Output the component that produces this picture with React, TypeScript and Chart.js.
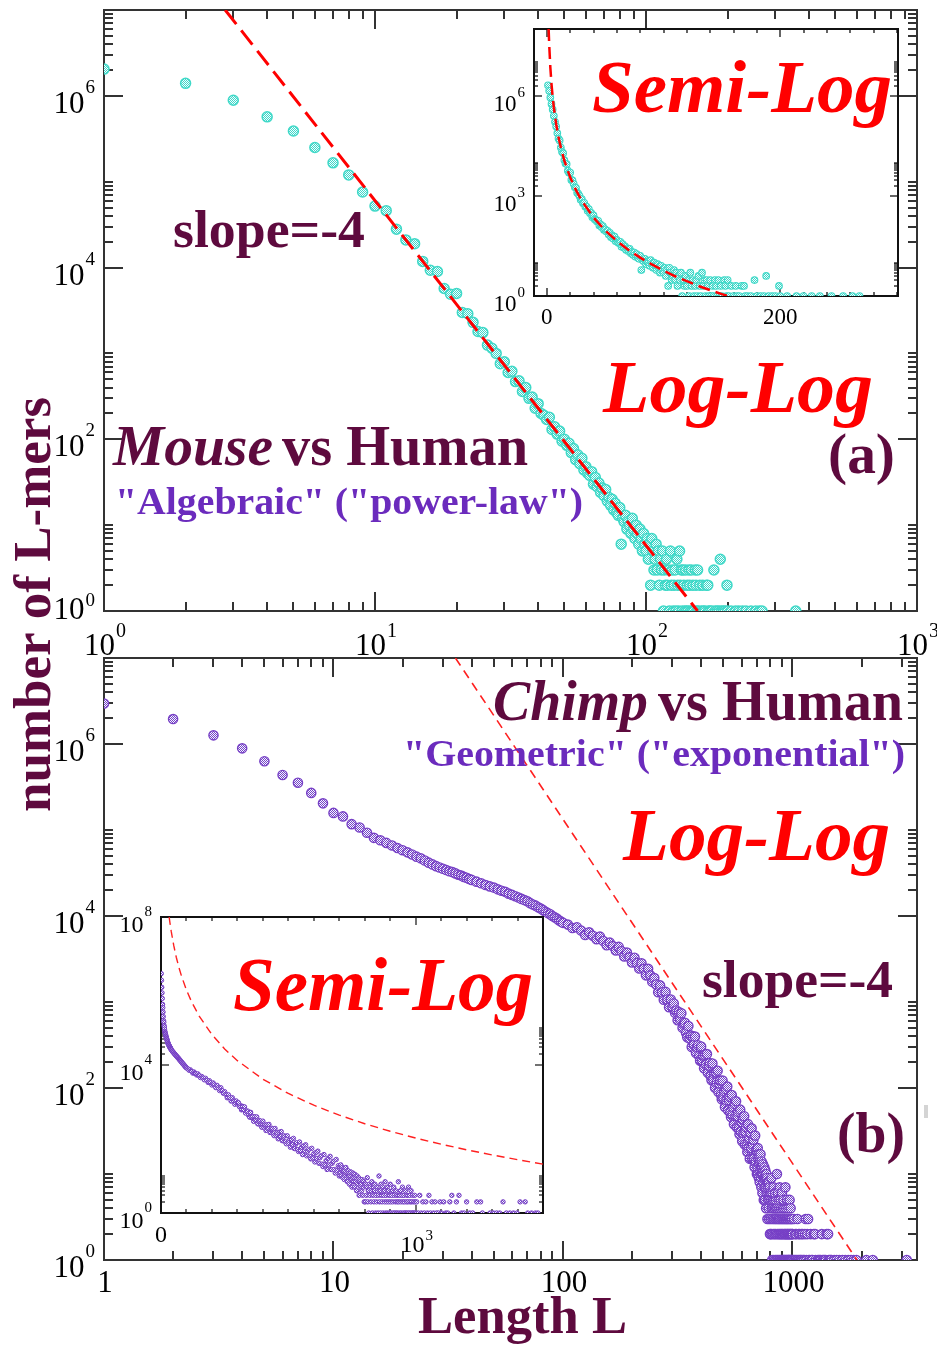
import React, { useEffect, useRef } from 'react';
import { Chart, registerables } from 'chart.js';
Chart.register(...registerables);

const W = 937;
const H = 1345;
const SERIF = '"Liberation Serif", "Times New Roman", serif';
const MAROON = '#5e0a3e';
const PURPLE_TXT = '#6b2bbd';
const RED = '#ff0000';
const CYAN = '#3fd9c8';
const VIOLET = '#7740c6';

// ---------------- data ----------------
// Mouse vs Human: [length L, number of L-mers]
const mousePoints: [number, number][] = [
  [1, 2050000], [2, 1400000], [3, 890000], [4, 570000], [5, 390000], [6, 250000], [7, 166000], [8, 120000], [9, 76000], [10, 52000],
  [11, 46000], [12, 28000], [13, 21000], [14, 19000], [15, 11800], [16, 9300], [17, 9000], [18, 5700], [19, 4900], [20, 5000],
  [21, 3000], [22, 2900], [23, 2300], [24, 1800], [25, 1750], [26, 1250], [27, 1150], [28, 1000], [29, 760], [30, 800],
  [31, 600], [32, 620], [33, 470], [34, 480], [35, 360], [36, 400], [37, 300], [38, 310], [39, 230], [40, 260],
  [41, 200], [42, 190], [43, 170], [44, 180], [45, 130], [46, 140], [47, 115], [48, 125], [49, 95], [50, 100],
  [51, 85], [52, 90], [53, 70], [54, 78], [55, 58], [56, 66], [57, 52], [58, 60], [59, 44], [60, 48],
  [61, 40], [62, 38], [63, 42], [64, 30], [65, 36], [66, 28], [67, 31], [68, 24], [69, 27], [70, 22],
  [71, 26], [72, 19], [73, 21], [74, 17], [75, 20], [76, 15], [77, 18], [78, 14], [79, 13], [80, 16],
  [81, 6], [82, 12], [83, 11], [84, 13], [85, 9], [86, 11], [87, 10], [88, 8], [89, 12], [90, 9],
  [91, 7], [92, 10], [93, 8], [94, 6], [95, 9], [96, 7], [97, 5], [98, 8], [99, 6], [100, 5],
  [101, 7], [102, 4], [103, 6], [104, 2], [105, 7], [106, 5], [107, 3], [108, 4], [109, 6], [110, 3],
  [111, 5], [112, 2], [113, 4], [114, 3], [115, 5], [116, 1], [117, 3], [118, 2], [119, 4], [120, 2],
  [121, 3], [122, 1], [123, 5], [124, 2], [125, 3], [126, 1], [127, 2], [128, 3], [129, 1], [130, 4],
  [131, 2], [132, 1], [133, 5], [134, 2], [135, 3], [136, 1], [137, 3], [138, 2], [139, 1], [140, 3],
  [141, 1], [142, 2], [143, 1], [144, 3], [145, 2], [146, 1], [147, 3], [148, 1], [149, 2], [150, 1],
  [152, 3], [153, 2], [154, 1], [155, 3], [156, 1], [158, 2], [160, 1], [162, 2], [163, 1], [165, 1],
  [167, 2], [169, 2], [170, 1], [172, 1], [175, 1], [178, 3], [180, 1], [183, 1], [186, 1], [188, 4],
  [190, 1], [193, 1], [196, 1], [199, 2], [200, 1], [206, 1], [214, 1], [220, 1], [227, 1], [234, 1],
  [244, 1], [254, 1], [262, 1], [268, 1], [357, 1],
];

// Chimp vs Human: [length L, number of L-mers]
const chimpPoints: [number, number][] = [
  [1, 2950000], [2, 1950000], [3, 1260000], [4, 890000], [5, 630000], [6, 436000], [7, 355000], [8, 270000], [9, 204000], [10, 158000],
  [11, 144000], [12, 117000], [13, 107000], [14, 93000], [15, 81000], [16, 75900], [17, 70800], [18, 66100], [19, 61700], [20, 58200],
  [21, 55000], [22, 51900], [23, 49000], [24, 46800], [25, 44200], [26, 41700], [27, 39800], [28, 38000], [29, 36700], [30, 35500],
  [31, 34300], [32, 33100], [33, 32400], [34, 31300], [35, 30200], [36, 29500], [37, 28500], [38, 27900], [39, 26900], [40, 26300],
  [42, 25100], [44, 24000], [46, 22900], [48, 22100], [50, 21400], [52, 20400], [54, 19700], [56, 19100], [58, 18200], [60, 17600],
  [62, 17000], [64, 16400], [66, 15800], [68, 15300], [70, 14800], [72, 14100], [74, 13600], [76, 13200], [78, 12600], [80, 12200],
  [82, 11700], [84, 11200], [86, 10800], [88, 10500], [90, 10000], [92, 9660], [94, 9330], [96, 8910], [98, 8610], [100, 8320],
  [105, 7940], [110, 7240], [115, 7410], [120, 6760], [125, 6030], [130, 6460], [135, 5890], [140, 5370], [145, 5750], [150, 5130],
  [155, 4570], [160, 4900], [165, 4470], [170, 3980], [175, 4370], [180, 3890], [185, 3390], [190, 3760], [195, 3310], [200, 2880],
  [205, 3270], [210, 2850], [215, 2450], [220, 2820], [225, 2430], [230, 2040], [235, 2430], [240, 2040], [245, 1720], [250, 1900],
  [255, 1600], [260, 1300], [265, 1560], [270, 1300], [275, 1060], [280, 1310], [285, 1070], [290, 870], [295, 1070], [300, 880],
  [304, 960], [308, 748], [312, 798], [316, 613], [320, 765], [324, 626], [328, 738], [332, 502], [336, 561], [340, 572],
  [344, 437], [348, 389], [352, 526], [356, 376], [360, 409], [364, 300], [368, 398], [372, 319], [376, 396], [380, 256],
  [384, 299], [388, 314], [392, 234], [396, 207], [400, 304], [404, 209], [408, 238], [412, 170], [416, 243], [420, 190],
  [424, 248], [428, 150], [432, 182], [436, 195], [440, 139], [444, 123], [448, 193], [452, 126], [456, 147], [460, 101],
  [464, 152], [468, 116], [472, 159], [476, 90], [480, 113], [484, 122], [488, 84], [492, 74], [496, 122], [500, 76],
  [504, 91], [508, 60], [512, 97], [516, 72], [520, 104], [524, 55], [528, 72], [532, 79], [536, 52], [540, 46],
  [544, 83], [548, 49], [552, 60], [556, 38], [560, 65], [564, 47], [568, 70], [572, 35], [576, 47], [580, 53],
  [584, 34], [588, 29], [592, 56], [596, 31], [600, 40], [604, 24], [608, 43], [612, 30], [616, 47], [620, 22],
  [624, 31], [628, 35], [632, 21], [636, 18], [640, 38], [644, 20], [648, 26], [652, 15], [656, 30], [660, 20],
  [664, 34], [668, 15], [672, 22], [676, 25], [680, 15], [684, 12], [688, 28], [692, 14], [696, 19], [700, 10],
  [702, 18], [704, 12], [706, 20], [708, 10], [710, 15], [712, 17], [714, 9], [716, 13], [718, 16], [720, 8],
  [722, 14], [724, 11], [726, 17], [728, 9], [730, 12], [732, 7], [734, 14], [736, 10], [738, 12], [740, 6],
  [742, 10], [744, 13], [746, 8], [748, 11], [750, 5], [752, 9], [754, 12], [756, 7], [758, 9], [760, 5],
  [762, 11], [764, 7], [766, 9], [768, 4], [770, 10], [772, 6], [774, 8], [776, 9], [778, 3], [780, 7],
  [782, 8], [784, 5], [786, 6], [788, 4], [790, 8], [792, 3], [794, 5], [796, 7], [798, 2], [800, 6],
  [802, 2], [804, 6], [806, 3], [808, 5], [810, 9], [812, 2], [814, 4], [816, 1], [818, 6], [820, 3],
  [822, 5], [824, 2], [826, 4], [828, 7], [830, 1], [832, 3], [834, 5], [836, 2], [838, 4], [840, 6],
  [842, 1], [844, 3], [846, 2], [848, 5], [850, 4], [852, 1], [854, 3], [856, 10], [858, 2], [860, 4],
  [862, 1], [864, 6], [866, 3], [868, 2], [870, 5], [872, 1], [874, 3], [876, 4], [878, 2], [880, 7],
  [882, 1], [884, 3], [886, 2], [888, 5], [890, 1], [892, 4], [894, 2], [896, 3], [898, 1], [900, 6],
  [902, 2], [904, 1], [906, 3], [908, 4], [910, 2], [912, 1], [914, 5], [916, 3], [918, 1], [920, 2],
  [922, 4], [924, 1], [926, 3], [928, 2], [930, 1], [932, 7], [934, 2], [936, 3], [938, 1], [940, 4],
  [942, 2], [944, 1], [946, 3], [948, 5], [950, 2], [952, 1], [954, 3], [956, 2], [958, 1], [960, 4],
  [962, 1], [964, 2], [966, 3], [968, 1], [970, 2], [972, 5], [974, 1], [976, 3], [978, 2], [980, 1],
  [982, 4], [984, 2], [986, 1], [988, 3], [990, 1], [992, 2], [994, 1], [996, 3], [998, 2], [1000, 1],
  [1004, 2], [1010, 1], [1016, 3], [1022, 1], [1028, 2], [1034, 1], [1040, 2], [1046, 1], [1052, 3], [1058, 1],
  [1064, 2], [1070, 1], [1076, 2], [1082, 1], [1090, 1], [1096, 2], [1102, 1], [1110, 2], [1118, 1], [1126, 1],
  [1134, 2], [1142, 3], [1150, 1], [1160, 2], [1170, 3], [1180, 1], [1190, 1], [1200, 2], [1212, 1], [1224, 1],
  [1240, 2], [1255, 2], [1262, 1], [1292, 1], [1305, 1], [1318, 1], [1330, 1], [1343, 2], [1356, 1], [1370, 1],
  [1384, 1], [1398, 1], [1410, 2], [1430, 2], [1440, 1], [1455, 1], [1470, 1], [1480, 1], [1520, 1], [1560, 1],
  [1600, 1], [1650, 1], [1700, 1], [1750, 1], [1800, 1], [1850, 1], [1900, 1], [2100, 1], [2240, 1], [3150, 1],
];

// slope = -4 guide lines (end points)
const guideMouse: [number, number][] = [[2.8, 1e7], [155, 1]];
const guideChimp: [number, number][] = [[34, 1e7], [1910, 1]];
// the same kind of guide as seen in the semi-log insets
const guideMouseSemi: [number, number][] = [
  [1.55, 1e8], [2, 3.6e7], [3, 7.1e6], [4, 2.25e6], [5, 9.2e5], [6, 4.45e5], [8, 1.41e5], [10, 5.8e4], [12, 2.8e4],
  [15, 1.14e4], [20, 3600], [25, 1480], [30, 713], [40, 225], [50, 92], [60, 44.5], [70, 24], [80, 14.1], [90, 8.8],
  [100, 5.8], [110, 3.9], [120, 2.8], [130, 2.0], [140, 1.5], [150, 1.14], [155, 1],
];
const guideChimpSemi: [number, number][] = [
  [32, 1e8], [35, 7.06e7], [40, 4.14e7], [50, 1.7e7], [60, 8.18e6], [70, 4.41e6], [80, 2.59e6], [100, 1.06e6],
  [120, 5.11e5], [150, 2.09e5], [200, 6.63e4], [250, 2.71e4], [300, 1.31e4], [400, 4140], [500, 1700], [600, 818],
  [700, 441], [800, 259], [900, 162], [1000, 106], [1100, 72.4], [1200, 51.1], [1300, 37.1], [1400, 27.6], [1500, 20.9],
];

// tick values / labels
const mainXMajor = [1, 10, 100, 1000];
const mainXExp = ['0', '1', '2', '3'];
const mainBXLabels = ['1', '10', '100', '1000'];
const mainYMajor = [1, 1e2, 1e4, 1e6];
const mainYExp = ['0', '2', '4', '6'];
const insetAYMajor = [1, 1e3, 1e6];
const insetAYExp = ['0', '3', '6'];
const insetAXMajor = [0, 200];
const insetAXLabels = ['0', '200'];
const insetBYMajor = [1, 1e4, 1e8];
const insetBYExp = ['0', '4', '8'];
const insetBXMajor = [0, 1000];

function logMinors(exps: number[], mFrom: number, mTo: number, max: number) {
  const out: number[] = [];
  for (const k of exps) for (let m = mFrom; m <= mTo; m++) { const v = m * Math.pow(10, k); if (v <= max) out.push(v); }
  return out;
}
function linMinors(from: number, to: number, step: number, skip: number[]) {
  const out: number[] = [];
  for (let v = from; v <= to + 1e-9; v += step) if (!skip.includes(v)) out.push(v);
  return out;
}

// ---------------- drawing helpers ----------------
type TickSpec = {
  xMajor: number[]; xMinor: number[]; yMajor: number[]; yMinor: number[];
  majorLen: number; minorLen: number; tickWidth: number; frameWidth: number; color: string; bg?: boolean;
};

function drawFrame(chart: any, o: TickSpec) {
  const { ctx, chartArea: a } = chart;
  const xs = chart.scales.x, ys = chart.scales.y;
  ctx.save();
  if (o.bg) { ctx.fillStyle = '#ffffff'; ctx.fillRect(a.left, a.top, a.right - a.left, a.bottom - a.top); }
  ctx.strokeStyle = o.color;
  ctx.lineWidth = o.tickWidth;
  const seg = (x1: number, y1: number, x2: number, y2: number) => { ctx.beginPath(); ctx.moveTo(x1, y1); ctx.lineTo(x2, y2); ctx.stroke(); };
  const doX = (vals: number[], len: number) => vals.forEach(v => {
    const p = Math.round(xs.getPixelForValue(v));
    if (p < a.left - 1 || p > a.right + 1) return;
    seg(p, a.bottom, p, a.bottom - len); seg(p, a.top, p, a.top + len);
  });
  const doY = (vals: number[], len: number) => vals.forEach(v => {
    const p = Math.round(ys.getPixelForValue(v));
    if (p < a.top - 1 || p > a.bottom + 1) return;
    seg(a.left, p, a.left + len, p); seg(a.right, p, a.right - len, p);
  });
  doX(o.xMinor, o.minorLen); doX(o.xMajor, o.majorLen);
  doY(o.yMinor, o.minorLen); doY(o.yMajor, o.majorLen);
  ctx.lineWidth = o.frameWidth;
  ctx.strokeRect(a.left, a.top, a.right - a.left, a.bottom - a.top);
  ctx.restore();
}

function powLabel(ctx: CanvasRenderingContext2D, exp: string, x: number, base: number, size: number,
  supSize: number, supBase: number, align: 'right' | 'center') {
  ctx.save();
  ctx.fillStyle = '#000';
  ctx.textAlign = 'left';
  ctx.textBaseline = 'alphabetic';
  ctx.font = `${size}px ${SERIF}`;
  const w1 = ctx.measureText('10').width;
  ctx.font = `${supSize}px ${SERIF}`;
  const w2 = ctx.measureText(exp).width;
  const total = w1 + 1 + w2;
  const x0 = align === 'right' ? x - total : x - total / 2;
  ctx.font = `${size}px ${SERIF}`;
  ctx.fillText('10', x0, base);
  ctx.font = `${supSize}px ${SERIF}`;
  ctx.fillText(exp, x0 + w1 + 1, supBase);
  ctx.restore();
}

function plainLabel(ctx: CanvasRenderingContext2D, text: string, x: number, base: number, size: number) {
  ctx.save();
  ctx.fillStyle = '#000';
  ctx.font = `${size}px ${SERIF}`;
  ctx.textAlign = 'center';
  ctx.textBaseline = 'alphabetic';
  ctx.fillText(text, x, base);
  ctx.restore();
}

function fitText(ctx: CanvasRenderingContext2D, text: string, x: number, base: number, font: string, color: string, width: number, rotate = false) {
  ctx.save();
  ctx.font = font;
  ctx.fillStyle = color;
  ctx.textAlign = 'left';
  ctx.textBaseline = 'alphabetic';
  const m = ctx.measureText(text).width;
  ctx.translate(x, base);
  if (rotate) ctx.rotate(-Math.PI / 2);
  ctx.scale(width / m, 1);
  ctx.fillText(text, 0, 0);
  ctx.restore();
}

function makePattern(canvas: HTMLCanvasElement, color: string) {
  const p = document.createElement('canvas');
  p.width = 2; p.height = 2;
  const g = p.getContext('2d')!;
  g.fillStyle = '#f4fbff'; g.fillRect(0, 0, 2, 2);
  g.fillStyle = color; g.fillRect(0, 0, 1, 1); g.fillRect(1, 1, 1, 1);
  return canvas.getContext('2d')!.createPattern(p, 'repeat')!;
}

const toXY = (pts: [number, number][]) => pts.map(([x, y]) => ({ x, y }));

function makeChart(canvas: HTMLCanvasElement, o: {
  padding: { left: number; top: number; right: number; bottom: number };
  x: any; y: any; points: [number, number][]; guide: [number, number][];
  color: string; radius: number; border: number;
  guideWidth: number; guideDash: number[]; guideColor: string;
  ticks: TickSpec; after: (chart: any) => void;
}) {
  const pattern = makePattern(canvas, o.color);
  return new Chart(canvas, {
    type: 'scatter',
    data: {
      datasets: [
        {
          data: toXY(o.guide), showLine: true, pointRadius: 0, borderColor: o.guideColor,
          borderWidth: o.guideWidth, borderDash: o.guideDash, tension: 0, fill: false,
        } as any,
        {
          data: toXY(o.points), showLine: false, pointRadius: o.radius, pointBorderWidth: o.border,
          pointBackgroundColor: pattern, pointBorderColor: o.color, pointStyle: 'circle',
        } as any,
      ],
    },
    options: {
      responsive: false,
      animation: false,
      events: [],
      layout: { padding: o.padding },
      plugins: { legend: { display: false }, tooltip: { enabled: false } },
      scales: { x: { ...o.x, display: false }, y: { ...o.y, display: false } },
    },
    plugins: [{
      id: 'frameAndText',
      beforeDatasetsDraw(chart: any) { drawFrame(chart, o.ticks); },
      afterDraw(chart: any) { o.after(chart); },
    }],
  } as any);
}

export default function App() {
  const rA = useRef<HTMLCanvasElement>(null);
  const rAi = useRef<HTMLCanvasElement>(null);
  const rB = useRef<HTMLCanvasElement>(null);
  const rBi = useRef<HTMLCanvasElement>(null);

  useEffect(() => {
    const mainTicks = { majorLen: 19, minorLen: 9, tickWidth: 2, frameWidth: 2, color: '#333333' };

    const chartA = makeChart(rA.current!, {
      padding: { left: 104, top: 10, right: W - 917, bottom: H - 611 },
      x: { type: 'logarithmic', min: 1, max: 1000 },
      y: { type: 'logarithmic', min: 1, max: 1e7 },
      points: mousePoints, guide: guideMouse, color: CYAN, radius: 5, border: 1.5,
      guideWidth: 3, guideDash: [18, 8], guideColor: RED,
      ticks: {
        ...mainTicks,
        xMajor: mainXMajor, xMinor: logMinors([0, 1, 2], 2, 9, 1000),
        yMajor: mainYMajor, yMinor: logMinors([0, 2, 4, 6], 2, 10, 1e7),
      },
      after(chart: any) {
        const ctx = chart.ctx as CanvasRenderingContext2D;
        const xs = chart.scales.x, ys = chart.scales.y;
        mainYMajor.forEach((v, i) => {
          const p = ys.getPixelForValue(v);
          if (i === 0) powLabel(ctx, mainYExp[i], 95, p + 8, 31, 19, p - 5, 'right');
          else powLabel(ctx, mainYExp[i], 95, p + 17, 31, 19, p - 3, 'right');
        });
        mainXMajor.forEach((v, i) => {
          const p = xs.getPixelForValue(v);
          powLabel(ctx, mainXExp[i], p + 1, 655, 31, 20, 637, 'center');
        });
        fitText(ctx, 'slope=-4', 173, 247, `bold 52px ${SERIF}`, MAROON, 192);
        fitText(ctx, 'Log-Log', 603, 412, `italic bold 75px ${SERIF}`, RED, 270);
        fitText(ctx, '(a)', 828, 473, `bold 57px ${SERIF}`, MAROON, 67);
        fitText(ctx, 'Mouse', 113, 465, `italic bold 57px ${SERIF}`, MAROON, 160);
        fitText(ctx, 'vs Human', 282, 465, `bold 57px ${SERIF}`, MAROON, 246);
        fitText(ctx, '"Algebraic" ("power-law")', 115, 514, `bold 37px ${SERIF}`, PURPLE_TXT, 468);
      },
    });

    const chartAi = makeChart(rAi.current!, {
      padding: { left: 534, top: 29, right: W - 898, bottom: H - 296 },
      x: { type: 'linear', min: -11, max: 301 },
      y: { type: 'logarithmic', min: 1, max: 1e8 },
      points: mousePoints, guide: guideMouseSemi, color: CYAN, radius: 3.3, border: 1.1,
      guideWidth: 2.5, guideDash: [12, 6], guideColor: RED,
      ticks: {
        majorLen: 8, minorLen: 4, tickWidth: 1.3, frameWidth: 2, color: '#111111', bg: true,
        xMajor: insetAXMajor, xMinor: linMinors(20, 300, 20, [200]),
        yMajor: insetAYMajor, yMinor: logMinors([0, 3, 6], 2, 10, 1e8),
      },
      after(chart: any) {
        const ctx = chart.ctx as CanvasRenderingContext2D;
        const xs = chart.scales.x, ys = chart.scales.y;
        insetAYMajor.forEach((v, i) => {
          const p = ys.getPixelForValue(v);
          powLabel(ctx, insetAYExp[i], 525, p + 15, 23, 15, p + 1, 'right');
        });
        insetAXMajor.forEach((v, i) => plainLabel(ctx, insetAXLabels[i], xs.getPixelForValue(v), 324, 23));
        fitText(ctx, 'Semi-Log', 592, 112, `italic bold 74px ${SERIF}`, RED, 300);
      },
    });

    const chartB = makeChart(rB.current!, {
      padding: { left: 104, top: 658, right: W - 917, bottom: H - 1260 },
      x: { type: 'logarithmic', min: 1, max: 3490 },
      y: { type: 'logarithmic', min: 1, max: 1e7 },
      points: chimpPoints, guide: guideChimp, color: VIOLET, radius: 4.6, border: 1.4,
      guideWidth: 1.6, guideDash: [9, 6], guideColor: '#ff2020',
      ticks: {
        ...mainTicks,
        xMajor: mainXMajor, xMinor: logMinors([0, 1, 2, 3], 2, 9, 3490),
        yMajor: mainYMajor, yMinor: logMinors([0, 2, 4, 6], 2, 10, 1e7),
      },
      after(chart: any) {
        const ctx = chart.ctx as CanvasRenderingContext2D;
        const xs = chart.scales.x, ys = chart.scales.y;
        mainYMajor.forEach((v, i) => {
          const p = ys.getPixelForValue(v);
          powLabel(ctx, mainYExp[i], 95, p + 17, 31, 19, p - 3, 'right');
        });
        mainXMajor.forEach((v, i) => plainLabel(ctx, mainBXLabels[i], xs.getPixelForValue(v) + 1, 1292, 31));
        fitText(ctx, 'Chimp', 493, 720, `italic bold 56px ${SERIF}`, MAROON, 155);
        fitText(ctx, 'vs Human', 658, 720, `bold 56px ${SERIF}`, MAROON, 245);
        fitText(ctx, '"Geometric" ("exponential")', 403, 766, `bold 37px ${SERIF}`, PURPLE_TXT, 502);
        fitText(ctx, 'Log-Log', 623, 860, `italic bold 73px ${SERIF}`, RED, 267);
        fitText(ctx, 'slope=-4', 702, 997, `bold 52px ${SERIF}`, MAROON, 191);
        fitText(ctx, '(b)', 837, 1152, `bold 57px ${SERIF}`, MAROON, 68);
        fitText(ctx, 'Length L', 418, 1333, `bold 52px ${SERIF}`, MAROON, 209);
        fitText(ctx, 'number of L-mers', 50, 812, `bold 53px ${SERIF}`, MAROON, 415, true);
        ctx.save();
        ctx.fillStyle = '#d4d4d4';
        ctx.fillRect(924, 1105, 4, 13);
        ctx.restore();
      },
    });

    const chartBi = makeChart(rBi.current!, {
      padding: { left: 161, top: 917, right: W - 543, bottom: H - 1213 },
      x: { type: 'linear', min: 0, max: 1500 },
      y: { type: 'logarithmic', min: 1, max: 1e8 },
      points: chimpPoints, guide: guideChimpSemi, color: VIOLET, radius: 2.2, border: 1,
      guideWidth: 1.4, guideDash: [8, 5], guideColor: '#ff2020',
      ticks: {
        majorLen: 8, minorLen: 4, tickWidth: 1.2, frameWidth: 2, color: '#111111', bg: true,
        xMajor: insetBXMajor, xMinor: linMinors(100, 1500, 100, [1000]),
        yMajor: insetBYMajor, yMinor: logMinors([0, 4], 2, 10, 1e8),
      },
      after(chart: any) {
        const ctx = chart.ctx as CanvasRenderingContext2D;
        const xs = chart.scales.x, ys = chart.scales.y;
        insetBYMajor.forEach((v, i) => {
          const p = ys.getPixelForValue(v);
          powLabel(ctx, insetBYExp[i], 152, p + 15, 24, 15, p - 1, 'right');
        });
        plainLabel(ctx, '0', xs.getPixelForValue(0), 1242, 24);
        powLabel(ctx, '3', xs.getPixelForValue(1000) + 1, 1252, 24, 15, 1240, 'center');
        fitText(ctx, 'Semi-Log', 233, 1010, `italic bold 76px ${SERIF}`, RED, 300);
      },
    });

    return () => { chartA.destroy(); chartAi.destroy(); chartB.destroy(); chartBi.destroy(); };
  }, []);

  const cs: React.CSSProperties = { position: 'absolute', left: 0, top: 0, width: W, height: H };
  return (
    <div style={{ position: 'absolute', left: 0, top: 0, width: W, height: H, background: '#ffffff', overflow: 'hidden' }}>
      <canvas ref={rA} width={W} height={H} style={cs} />
      <canvas ref={rAi} width={W} height={H} style={cs} />
      <canvas ref={rB} width={W} height={H} style={cs} />
      <canvas ref={rBi} width={W} height={H} style={cs} />
    </div>
  );
}
